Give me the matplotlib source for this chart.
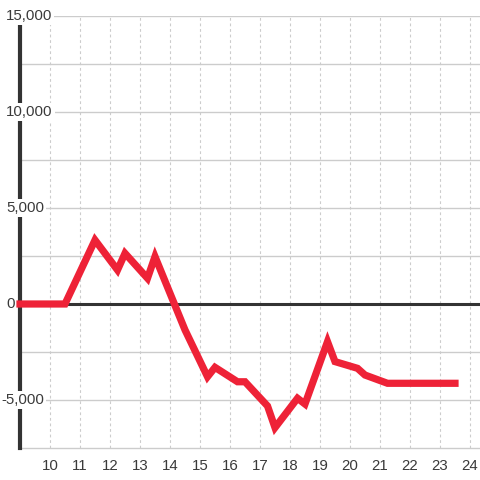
import matplotlib
matplotlib.use("Agg")
import matplotlib.pyplot as plt
import matplotlib.transforms as mtransforms

plt.rcParams['font.family'] = ['Liberation Sans', 'DejaVu Sans']

# lecturas aproximadas del grafico original
horas = [9, 10.5, 11.5, 12.25, 12.5, 13.25, 13.5, 14.5, 15.25, 15.5, 16.25,
         16.5, 17.25, 17.5, 18.25, 18.5, 19.25, 19.5, 20.25, 20.5, 21.25, 23.5]
valores = [0, 0, 3330, 1770, 2640, 1340, 2470, -1350, -3790, -3300, -4050,
           -4050, -5310, -6440, -4910, -5210, -1960, -3000, -3350, -3700, -4130, -4130]
ticks_x = list(range(10, 25))
ticks_y = [15000, 10000, 5000, 0, -5000]
grid_y = [15000, 12500, 10000, 7500, 5000, 2500, -2500, -5000]

fig = plt.figure(figsize=(4.8, 4.8), dpi=100)
ax = fig.add_axes([20/480, 32/480, 460/480, 432/480])
ax.set_xlim(9, 24 + 1/3)
ax.set_ylim(-7500, 15000)

for s in ['top', 'right']:
    ax.spines[s].set_visible(False)
ax.spines['bottom'].set_color('#cccccc')
ax.spines['bottom'].set_linewidth(1)
ax.spines['left'].set_color('#333333')
ax.spines['left'].set_linewidth(3)
ax.spines['left'].set_zorder(3)

for g in grid_y:
    ax.axhline(g, color='#cccccc', linewidth=1, zorder=1)
for t in ticks_x:
    ax.axvline(t, color='#cccccc', linewidth=0.8, linestyle=(0, (2.5, 2.5)), zorder=1)
ax.axhline(0, color='#333333', linewidth=2.2, zorder=2)

ax.set_xticks(ticks_x)
ax.set_xticklabels([str(t) for t in ticks_x])
ax.tick_params(axis='x', length=0, pad=8, labelsize=10.8, colors='#3a3a3a')
ax.set_yticks([])

trans = mtransforms.blended_transform_factory(fig.transFigure, ax.transData)
for v in ticks_y:
    xpos = 6/480 if v >= 0 else 1.5/480
    ax.text(xpos, v, f"{v:,}", transform=trans, ha='left', va='center',
            fontsize=10.8, color='#3a3a3a', zorder=5, clip_on=False,
            bbox=dict(facecolor='white', edgecolor='none', pad=1.5))

ax.plot(horas, valores, color='#EE2237', linewidth=5.2, solid_joinstyle='miter',
        solid_capstyle='projecting', zorder=6, clip_on=False)

fig.savefig('out.png', dpi=100)
